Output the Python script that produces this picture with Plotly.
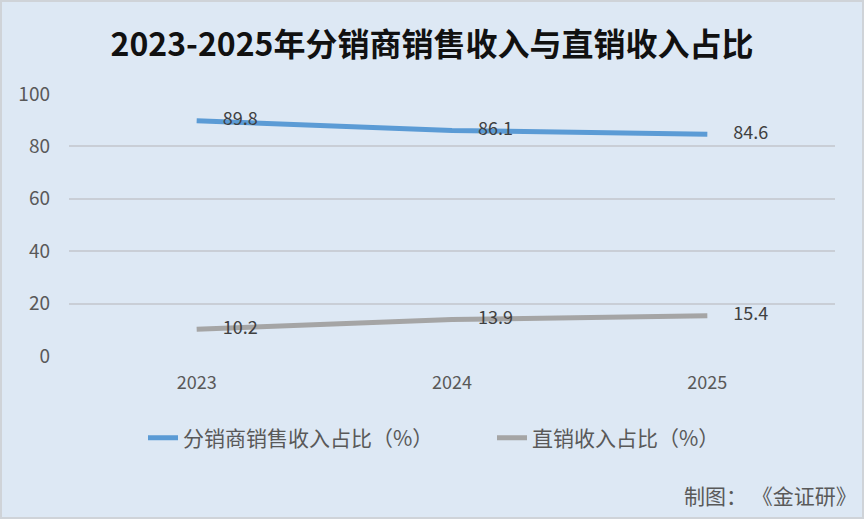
import plotly.graph_objects as go

years = ["2023", "2024", "2025"]
distributor_share = [89.8, 86.1, 84.6]
direct_share = [10.2, 13.9, 15.4]
series_names = ["分销商销售收入占比（%）", "直销收入占比（%）"]
title_text = "2023-2025年分销商销售收入与直销收入占比"
credit_text = "制图： 《金证研》"

FONT = "Noto Sans CJK SC"
fig = go.Figure()
for name, vals, col in [(series_names[0], distributor_share, "#5b9bd5"),
                        (series_names[1], direct_share, "#a5a5a5")]:
    fig.add_trace(go.Scatter(
        x=years, y=vals, name=name, mode="lines+markers+text",
        line=dict(color=col, width=5),
        marker=dict(size=40, color="rgba(0,0,0,0)", line=dict(width=0)),
        text=[f"{v:.1f}" for v in vals], textposition="middle right",
        textfont=dict(family=FONT, size=18, color="#404040"),
        cliponaxis=False,
    ))

fig.update_layout(
    width=864, height=519,
    paper_bgcolor="#dde8f4", plot_bgcolor="#dde8f4",
    margin=dict(l=69, r=29, t=94, b=163),
    title=dict(text=f"<b>{title_text}</b>", x=0.5, xanchor="center",
               y=1 - 45/519, yanchor="middle",
               font=dict(family=FONT, size=32, color="#111111")),
    xaxis=dict(type="category", range=[-0.5, 2.5], showgrid=False,
               showline=False, zeroline=False, ticks="",
               ticklabelstandoff=14,
               tickfont=dict(family=FONT, size=18, color="#595959")),
    yaxis=dict(range=[0, 100], dtick=20, showgrid=True, gridcolor="#c9ced6",
               gridwidth=1.5, zeroline=False, showline=False, ticks="",
               ticklabelstandoff=18,
               tickfont=dict(family=FONT, size=19, color="#595959")),
    legend=dict(orientation="h", x=(143-69)/766, xanchor="left", y=-(438-356)/262,
                yanchor="middle", bgcolor="rgba(0,0,0,0)",
                font=dict(family=FONT, size=21, color="#595959"),
                entrywidth=304, itemwidth=30),
    showlegend=True,
)
fig.add_annotation(text=credit_text, xref="paper", yref="paper",
                   x=(859-69)/766, xanchor="right", y=-(495-356)/262, yanchor="middle",
                   showarrow=False, font=dict(family=FONT, size=21, color="#595959"))
fig.add_shape(type="rect", xref="paper", yref="paper",
              x0=-69/766, x1=(864-69)/766, y0=-163/262, y1=(519-163)/262 + 0,
              line=dict(color="#cfd3d8", width=4), layer="below")
fig.write_html("out.html")
